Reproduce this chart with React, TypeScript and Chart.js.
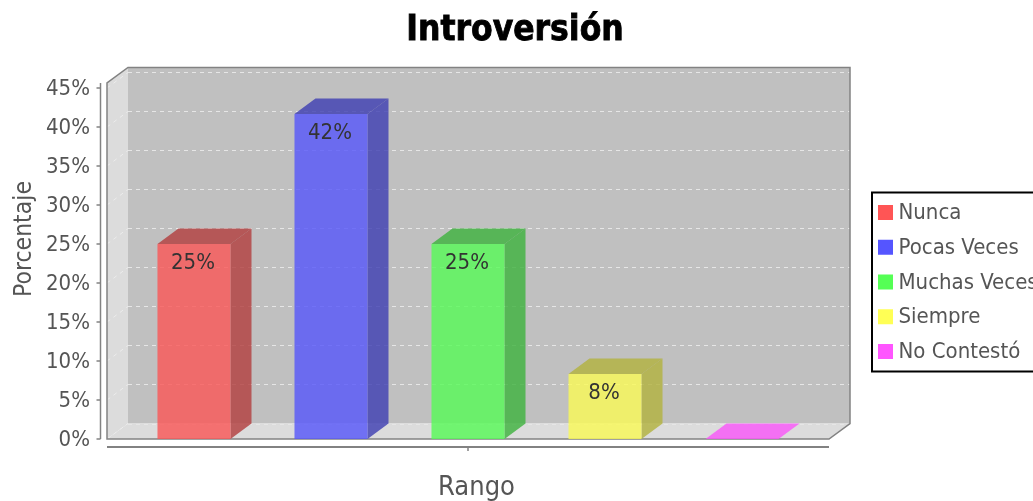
import React, { useEffect, useRef } from "react";
import { Chart, registerables } from "chart.js";

Chart.register(...registerables);

const titleText = "Introversión";
const xTitle = "Rango";
const yTitle = "Porcentaje";
const categories = [""];
const seriesNames = ["Nunca", "Pocas Veces", "Muchas Veces", "Siempre", "No Contestó"];
const seriesValues = [25, 41.67, 25, 8.33, 0];
const valueLabels = ["25%", "42%", "25%", "8%", ""];
const legendColors = ["#ff5555", "#5555ff", "#55ff55", "#ffff55", "#ff55ff"];
const frontColors = [
  "rgba(250,85,85,0.8)",
  "rgba(85,85,250,0.8)",
  "rgba(85,250,85,0.8)",
  "rgba(250,250,85,0.8)",
  "rgba(250,85,250,0.8)",
];
const darkColors = [
  "rgba(178,60,60,0.8)",
  "rgba(60,60,178,0.8)",
  "rgba(60,178,60,0.8)",
  "rgba(178,178,60,0.8)",
  "rgba(178,60,178,0.8)",
];

const DX = 21;
const DY = 15.5;
const FONT = '"DejaVu Sans Condensed", "DejaVu Sans", sans-serif';
const TEXT = "#555555";
const OUTLINE = "#828282";

function poly(ctx: CanvasRenderingContext2D, pts: number[][], fill?: string) {
  ctx.beginPath();
  pts.forEach((p, i) => (i ? ctx.lineTo(p[0], p[1]) : ctx.moveTo(p[0], p[1])));
  ctx.closePath();
  if (fill) {
    ctx.fillStyle = fill;
    ctx.fill();
  }
}

const plot3d = {
  id: "plot3d",
  beforeDatasetsDraw(chart: any) {
    const ctx: CanvasRenderingContext2D = chart.ctx;
    const { left, right, top, bottom } = chart.chartArea;
    const y = chart.scales.y;
    ctx.save();
    // walls
    poly(ctx, [[left + DX, top - DY], [right + DX, top - DY], [right + DX, bottom - DY], [left + DX, bottom - DY]], "#c0c0c0");
    poly(ctx, [[left, top], [left + DX, top - DY], [left + DX, bottom - DY], [left, bottom]], "#dcdcdc");
    poly(ctx, [[left, bottom], [right, bottom], [right + DX, bottom - DY], [left + DX, bottom - DY]], "#dcdcdc");
    // grid
    ctx.setLineDash([4, 4]);
    ctx.lineWidth = 1;
    y.ticks.forEach((t: any) => {
      const py = y.getPixelForValue(t.value);
      const gy = Math.round(py - DY) + 0.5;
      ctx.strokeStyle = "#e6e6e6";
      ctx.beginPath();
      ctx.moveTo(left + DX, gy);
      ctx.lineTo(right + DX, gy);
      ctx.stroke();
      ctx.strokeStyle = "#ececec";
      ctx.beginPath();
      ctx.moveTo(left, py);
      ctx.lineTo(left + DX, py - DY);
      ctx.stroke();
    });
    ctx.setLineDash([]);
    // outline
    ctx.strokeStyle = OUTLINE;
    ctx.lineWidth = 1.5;
    poly(ctx, [[left, bottom], [left, top], [left + DX, top - DY], [right + DX, top - DY], [right + DX, bottom - DY], [right, bottom]]);
    ctx.stroke();
    // y axis line and tick marks
    const ax = left - 6.5;
    ctx.beginPath();
    ctx.moveTo(ax, top);
    ctx.lineTo(ax, bottom);
    y.ticks.forEach((t: any) => {
      const py = y.getPixelForValue(t.value);
      ctx.moveTo(ax - 4, py);
      ctx.lineTo(ax, py);
    });
    ctx.stroke();
    // x axis line and its centre tick
    ctx.lineWidth = 2;
    ctx.beginPath();
    ctx.moveTo(left, bottom + 8);
    ctx.lineTo(right, bottom + 8);
    ctx.stroke();
    ctx.lineWidth = 1.5;
    ctx.beginPath();
    const cx = chart.scales.x.getPixelForValue(0);
    ctx.moveTo(cx, bottom + 8);
    ctx.lineTo(cx, bottom + 12);
    ctx.stroke();
    // side and top faces of bars
    chart.data.datasets.forEach((ds: any, i: number) => {
      const b = chart.getDatasetMeta(i).data[0];
      const l = b.x - b.width / 2;
      const r = b.x + b.width / 2;
      const value = ds.data[0];
      if (value > 0) {
        poly(ctx, [[r, b.y], [r + DX, b.y - DY], [r + DX, b.base - DY], [r, b.base]], darkColors[i]);
      }
      poly(ctx, [[l, b.y], [r, b.y], [r + DX, b.y - DY], [l + DX, b.y - DY]], value > 0 ? darkColors[i] : frontColors[i]);
    });
    ctx.restore();
  },
  afterDatasetsDraw(chart: any) {
    const ctx: CanvasRenderingContext2D = chart.ctx;
    ctx.save();
    ctx.font = `22px ${FONT}`;
    ctx.fillStyle = "#333333";
    ctx.textAlign = "center";
    ctx.textBaseline = "middle";
    chart.data.datasets.forEach((_: any, i: number) => {
      const b = chart.getDatasetMeta(i).data[0];
      if (valueLabels[i]) ctx.fillText(valueLabels[i], b.x - 1, b.y + 19);
    });
    ctx.restore();
  },
  afterDraw(chart: any) {
    const ctx: CanvasRenderingContext2D = chart.ctx;
    const { left, right } = chart.chartArea;
    ctx.save();
    // chart title, centred on the whole canvas
    ctx.fillStyle = "#000000";
    ctx.strokeStyle = "#000000";
    ctx.lineWidth = 0.8;
    ctx.textAlign = "center";
    ctx.textBaseline = "middle";
    ctx.font = `bold 35px ${FONT}`;
    ctx.fillText(titleText, 515, 31);
    ctx.strokeText(titleText, 515, 31);
    // axis titles
    ctx.fillStyle = TEXT;
    ctx.font = `27px ${FONT}`;
    ctx.fillText(xTitle, (left + right + DX) / 2 - 2, 488);
    ctx.translate(25, 239);
    ctx.rotate(-Math.PI / 2);
    ctx.font = `24.5px ${FONT}`;
    ctx.fillText(yTitle, 0, 0);
    ctx.restore();
    // legend
    ctx.save();
    ctx.fillStyle = "#ffffff";
    ctx.fillRect(872, 192, 170, 179);
    ctx.strokeStyle = "#000000";
    ctx.lineWidth = 2;
    ctx.strokeRect(872, 192.5, 170, 179);
    ctx.font = `22px ${FONT}`;
    ctx.textBaseline = "middle";
    ctx.textAlign = "left";
    chart.data.datasets.forEach((ds: any, i: number) => {
      const cy = 212.5 + i * 34.75;
      ctx.fillStyle = legendColors[i];
      ctx.fillRect(878, cy - 7.5, 15, 15);
      ctx.fillStyle = TEXT;
      ctx.fillText(ds.label, 898.5, cy + 1);
    });
    ctx.restore();
  },
};

export default function App() {
  const ref = useRef<HTMLCanvasElement>(null);
  useEffect(() => {
    const chart = new Chart(ref.current!, {
      type: "bar",
      data: {
        labels: categories,
        datasets: seriesNames.map((name, i) => ({
          label: name,
          data: [seriesValues[i]],
          backgroundColor: frontColors[i],
          borderWidth: 0,
          categoryPercentage: 0.9488,
          barPercentage: 0.533,
        })),
      },
      options: {
        responsive: false,
        animation: false,
        layout: { padding: { left: 0, right: 204, top: 83, bottom: 62 } },
        plugins: {
          legend: { display: false },
          tooltip: { enabled: false },
          title: { display: false },
        },
        scales: {
          x: {
            grid: { display: false },
            border: { display: false },
            afterFit: (s: any) => {
              s.height = 0;
            },
            ticks: { display: false, padding: 0 },
          },
          y: {
            min: 0,
            max: 45.64,
            grid: { display: false, drawTicks: false },
            border: { display: false },
            afterFit: (s: any) => {
              s.width = 107;
            },
            ticks: {
              stepSize: 5,
              includeBounds: false,
              padding: 17,
              labelOffset: 1.5,
              color: TEXT,
              font: { family: FONT, size: 22 },
              callback: (v: any) => `${v}%`,
            },
          },
        },
      },
      plugins: [plot3d],
    } as any);
    return () => chart.destroy();
  }, []);
  return (
    <div style={{ position: "absolute", left: 0, top: 0, width: 1033, height: 501, overflow: "hidden" }}>
      <canvas ref={ref} width={1033} height={501} style={{ display: "block", filter: "blur(0.5px)" }} />
    </div>
  );
}
